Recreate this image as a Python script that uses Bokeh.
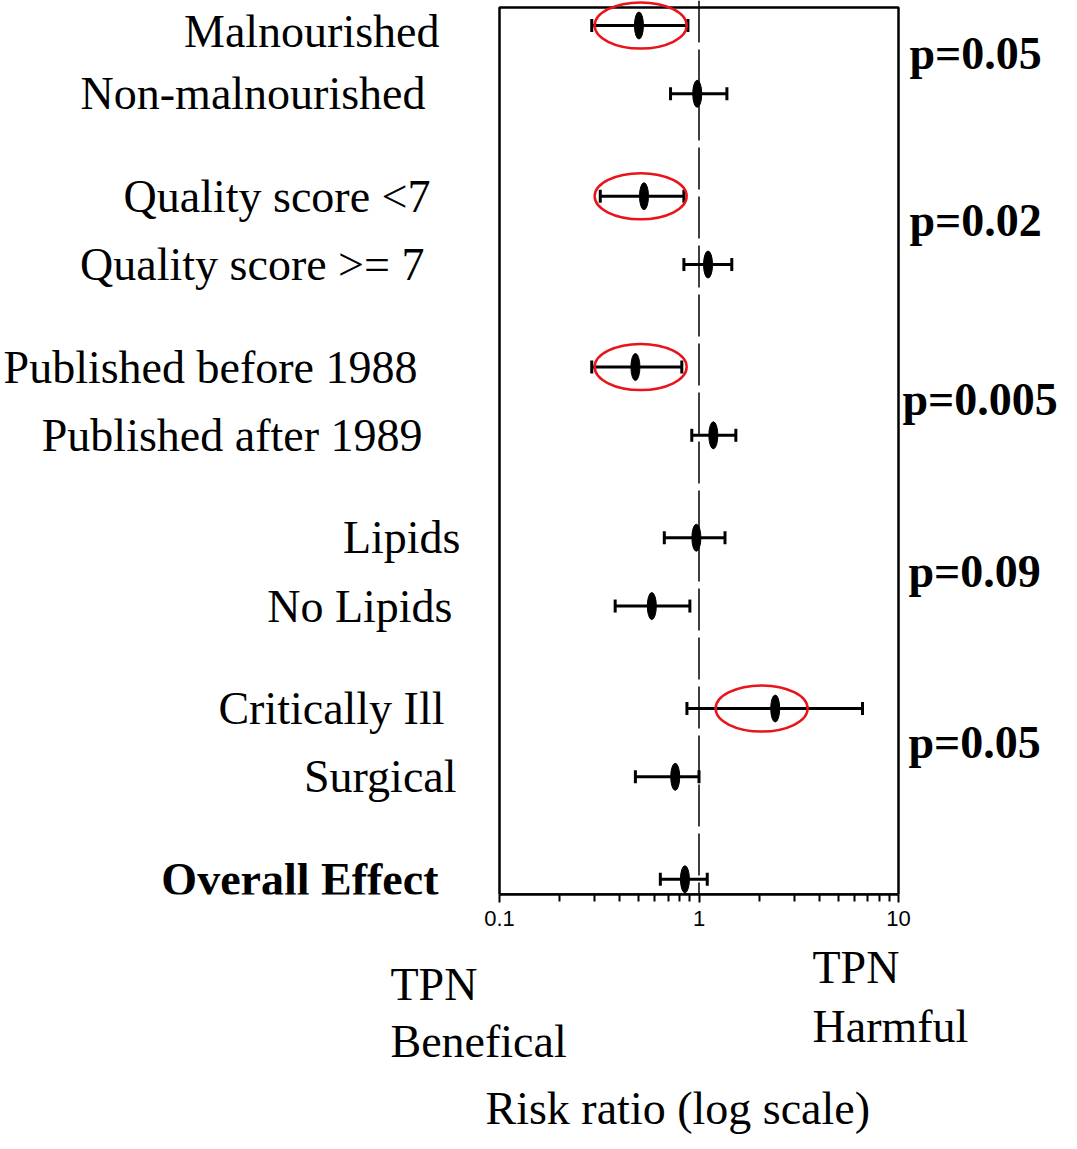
import math
from bokeh.plotting import figure
from bokeh.layouts import column
from bokeh.models import Range1d, FixedTicker, Span, ColumnDataSource, CustomJSTickFormatter
from bokeh.core.properties import value
from bokeh.embed import file_html
from bokeh.resources import INLINE

# ---------------- data ----------------
categories = ["Malnourished", "Non-malnourished", "Quality score <7", "Quality score >= 7",
              "Published before 1988", "Published after 1989", "Lipids", "No Lipids",
              "Critically Ill", "Surgical", "Overall Effect"]
group_id = [0, 0, 1, 1, 2, 2, 3, 3, 4, 4, 5]
risk_ratio = [0.50, 0.98, 0.53, 1.11, 0.48, 1.18, 0.97, 0.58, 2.41, 0.76, 0.85]
ci_low = [0.29, 0.72, 0.32, 0.84, 0.29, 0.92, 0.67, 0.38, 0.87, 0.48, 0.64]
ci_high = [0.88, 1.38, 0.84, 1.46, 0.82, 1.53, 1.35, 0.90, 6.6, 1.00, 1.10]
p_values = ["p=0.05", "p=0.02", "p=0.005", "p=0.09", "p=0.05"]
highlighted = ["Malnourished", "Quality score <7", "Published before 1988", "Critically Ill"]
highlight_center = [0.51, 0.51, 0.51, 2.06]
tick_values = [0.1, 1, 10]
tick_labels = ["0.1", "1", "10"]
bottom_texts = ["TPN", "Benefical", "TPN", "Harmful", "Risk ratio (log scale)"]

# ---------------- layout (screen px) ----------------
W = 1059
BOX_L, BOX_R = 499, 898           # box edges on canvas
BOX_TOP, BOX_BOT = 7, 894
FIRST_ROW = 25                    # first row centre on canvas
UNIT = 68.3                       # px per row step
AXIS_PANEL = 42
label_x_offset = [-60, -74, -69, -75, -82, -77, -39, -47, -55, -43, -61]
label_y_offset = [6, 0, 0, 0, 0, 0, 0, 0, 0, 0, 0]
pval_x_offset = [11, 11, 4, 10, 10]
pval_y_offset = [-6, -10, -2, 0, 0]
bottom_x = [390, 390, 812, 812, 485]
bottom_y = [48, 105, 31, 90, 172]
BOTTOM_H = 205

decade = (BOX_R - BOX_L) / 2.0
x_start = 10 ** (-1 - BOX_L / decade)
x_end = 10 ** (1 + (W - BOX_R) / decade)
y_top = -FIRST_ROW / UNIT
y_bottom = (BOX_BOT - FIRST_ROW) / UNIT
y_box_top = -(FIRST_ROW - BOX_TOP) / UNIT

pos = [i + 0.5 * g for i, g in enumerate(group_id)]

p = figure(x_axis_type="log", x_range=Range1d(x_start, x_end), y_range=Range1d(y_bottom, y_top),
           frame_width=W, frame_height=BOX_BOT,
           min_border_left=0, min_border_right=0, min_border_top=0, min_border_bottom=AXIS_PANEL,
           y_axis_location=None, toolbar_location=None, output_backend="svg",
           background_fill_color="white", border_fill_color="white")
p.xgrid.visible = False
p.ygrid.visible = False
p.outline_line_color = None

minor = [m * 10.0 ** e for e in (-1, 0) for m in range(2, 10)]
p.xaxis.ticker = FixedTicker(ticks=tick_values, minor_ticks=minor)
p.xaxis.bounds = (tick_values[0], tick_values[-1])
p.xaxis.formatter = CustomJSTickFormatter(
    args=dict(vals=tick_values, labs=tick_labels),
    code="const i = vals.findIndex(v => Math.abs(v - tick) < 1e-9); return i >= 0 ? labs[i] : '';")
p.xaxis.axis_line_width = 2.5
p.xaxis.major_tick_line_width = 2
p.xaxis.minor_tick_line_width = 2
p.xaxis.major_tick_out = 8
p.xaxis.major_tick_in = 0
p.xaxis.minor_tick_out = 7
p.xaxis.minor_tick_in = 0
p.xaxis.major_label_text_font = "Liberation Sans"
p.xaxis.major_label_text_font_size = "22px"
p.xaxis.major_label_text_color = "black"
p.xaxis.major_label_standoff = 8

# plot box
p.quad(left=[tick_values[0]], right=[tick_values[-1]], top=[y_box_top], bottom=[y_bottom],
       fill_alpha=0, line_color="black", line_width=2.5)

# reference line at RR = 1
p.add_layout(Span(location=1, dimension="height", line_color="black", line_width=1.5, line_dash="42 7"))

src = ColumnDataSource(dict(y=pos, rr=risk_ratio, lo=ci_low, hi=ci_high))
p.segment(x0="lo", y0="y", x1="hi", y1="y", source=src, line_color="black", line_width=3)
p.scatter(x=ci_low + ci_high, y=pos + pos, marker="dash", angle=math.pi / 2, size=13,
          line_color="black", line_width=3)
p.ellipse(x="rr", y="y", width=9, height=27, width_units="screen", height_units="screen",
          source=src, fill_color="black", line_color="black")

hy = [pos[categories.index(c)] for c in highlighted]
p.ellipse(x=highlight_center, y=hy, width=92, height=46, width_units="screen", height_units="screen",
          fill_alpha=0, line_color="#e8141a", line_width=2.5)

# category labels
lab_src = ColumnDataSource(dict(
    x=[tick_values[0]] * len(categories), y=pos, text=categories,
    xo=label_x_offset, yo=label_y_offset,
    style=["bold" if c == "Overall Effect" else "normal" for c in categories]))
p.text(x="x", y="y", text="text", x_offset="xo", y_offset="yo", source=lab_src,
       text_align="right", text_baseline="middle", text_font=value("Liberation Serif"),
       text_font_size="46px", text_font_style="style", text_color="black")

# p-values
pv_y = [(pos[2 * k] + pos[2 * k + 1]) / 2 for k in range(len(p_values))]
p.text(x=[tick_values[-1]] * len(p_values), y=pv_y, text=p_values,
       x_offset=pval_x_offset, y_offset=pval_y_offset,
       text_align="left", text_baseline="middle", text_font=value("Liberation Serif"),
       text_font_size="46px", text_font_style="bold", text_color="black")

# bottom annotations
b = figure(width=W, height=BOTTOM_H, x_range=Range1d(0, W), y_range=Range1d(BOTTOM_H, 0),
           min_border_left=0, min_border_right=0, min_border_top=0, min_border_bottom=0,
           x_axis_location=None, y_axis_location=None, toolbar_location=None, output_backend="svg",
           background_fill_color="white", border_fill_color="white")
b.xgrid.visible = False
b.ygrid.visible = False
b.outline_line_color = None
b.text(x=bottom_x, y=bottom_y, text=bottom_texts, text_align="left", text_baseline="middle",
       text_font=value("Liberation Serif"), text_font_size="46px", text_color="black")

layout = column(p, b, spacing=0)
open("out.html", "w").write(file_html(layout, INLINE))
